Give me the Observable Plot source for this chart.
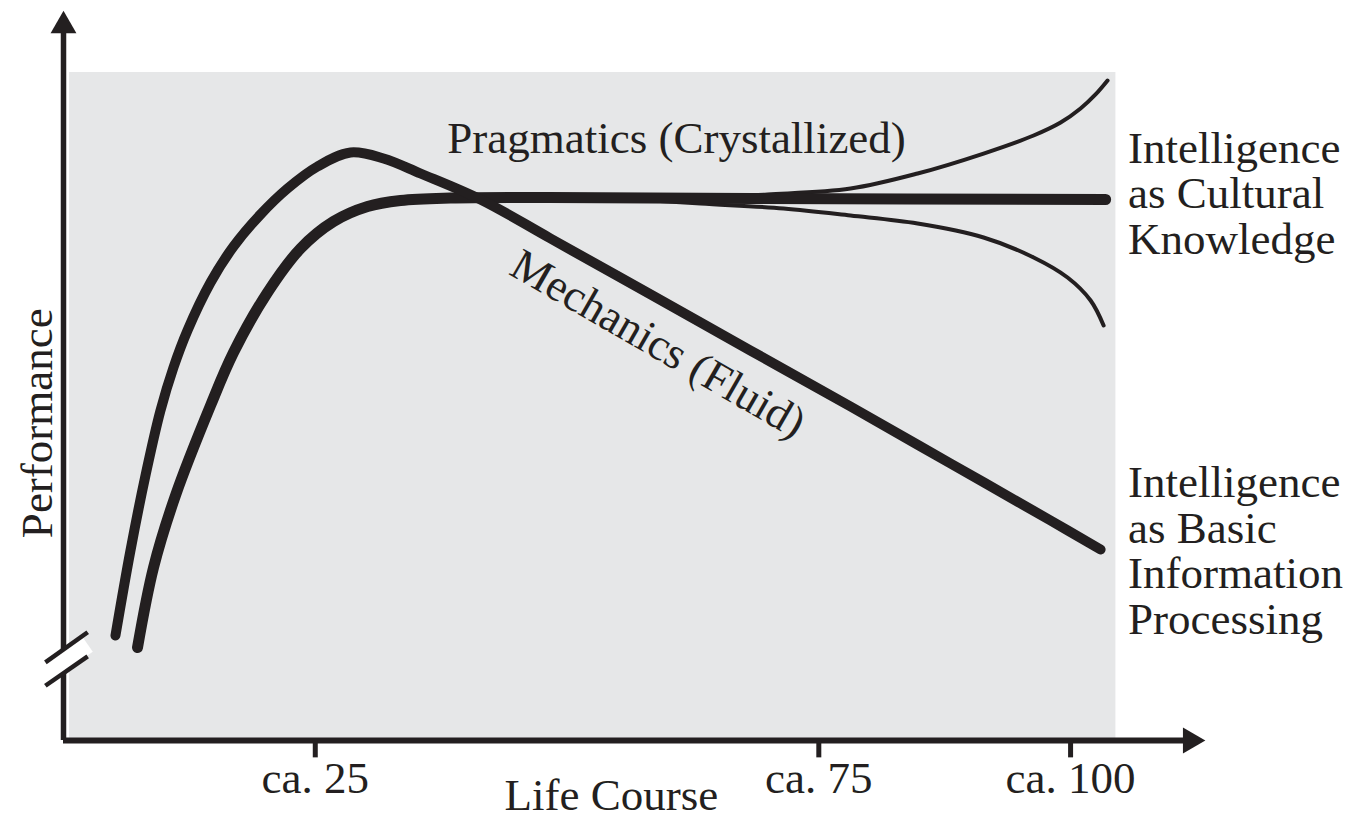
<!DOCTYPE html>
<html>
<head>
<meta charset="utf-8">
<script src="https://cdn.jsdelivr.net/npm/d3@7"></script>
<script src="https://cdn.jsdelivr.net/npm/@observablehq/plot@0.6"></script>
<style>
  html, body { margin: 0; padding: 0; background: #ffffff; overflow: hidden; }
  #chart svg { display: block; }
</style>
</head>
<body>
<div id="chart"></div>
<script>
// ---- Data (age in years along the life course, performance 0–100) ----
const mechanicsAge  = [5.16, 6.65, 8.14, 9.63, 10.92, 12.31, 14.60, 16.88, 19.56, 22.24, 25.22, 28.50, 31.78, 35.45, 41.41, 48.36, 58.29, 68.22, 78.15, 88.08, 98.01, 102.98];
const mechanicsPerf = [15.72, 28.44, 39.67, 49.40, 55.84, 61.38, 68.56, 73.95, 78.74, 82.63, 85.93, 88.02, 87.13, 84.88, 80.99, 75.15, 66.77, 58.38, 50.00, 41.47, 32.93, 28.59];

const pragmaticsAge  = [7.35, 8.94, 11.12, 14.60, 16.88, 20.26, 23.54, 26.81, 30.19, 33.47, 38.43, 48.36, 68.22, 103.48];
const pragmaticsPerf = [13.92, 25.90, 36.68, 50.15, 58.08, 67.07, 73.65, 77.69, 79.94, 80.84, 81.21, 81.29, 81.14, 80.99];

const upperAge  = [63.26, 69.91, 78.15, 84.81, 91.36, 96.33, 99.01, 100.99, 102.48, 103.67];
const upperPerf = [81.29, 81.74, 82.63, 84.88, 87.87, 90.57, 92.51, 94.61, 96.71, 98.80];

const lowerAge  = [55.31, 63.26, 71.50, 78.15, 84.81, 91.36, 96.33, 99.70, 101.99, 103.28];
const lowerPerf = [81.14, 80.39, 79.64, 78.59, 77.40, 75.30, 72.31, 69.31, 65.87, 62.13];

const tickAges   = [25, 75, 100];
const tickLabels = ["ca. 25", "ca. 75", "ca. 100"];

const seriesLabels = [
  {text: "Pragmatics (Crystallized)", x: 38.1, y: 87.9, rotate: 0},
  {text: "Mechanics (Fluid)", x: 44.1, y: 69.9, rotate: 30}
];
const endLabels = [
  {text: "Intelligence\nas Cultural\nKnowledge", x: 105.7, y: 72.9},
  {text: "Intelligence\nas Basic\nInformation\nProcessing", x: 105.7, y: 16.0}
];
const xTitle = {text: "Life Course", x: 54.4, y: -10.4};
const yTitle = {text: "Performance", x: -1.1, y: 47.5};

// background panel and axis decorations (data units)
const panel = [{x1: 0.6, x2: 104.5, y1: 0, y2: 100}];
const axisEnds = {x: 111.9, y: 106.0};
const breakBand  = [{x1: -1.8, y1: 10.0, x2: 2.4, y2: 14.4}];
const breakMarks = [
  {x1: -1.8, y1: 11.7, x2: 2.4, y2: 16.2},
  {x1: -1.8, y1: 8.2,  x2: 2.4, y2: 12.6}
];

const toPts = (xs, ys) => xs.map((x, i) => ({x, y: ys[i]}));
const mechanics  = toPts(mechanicsAge, mechanicsPerf);
const pragmatics = toPts(pragmaticsAge, pragmaticsPerf);
const upper = toPts(upperAge, upperPerf);
const lower = toPts(lowerAge, lowerPerf);
const ticks = tickAges.map((x, i) => ({x, label: tickLabels[i]}));

const ink = "#231f20";
const font = "'Liberation Serif', 'Times New Roman', serif";

const chart = Plot.plot({
  width: 1352,
  height: 820,
  marginLeft: 63,
  marginRight: 151,
  marginTop: 72,
  marginBottom: 80,
  x: {domain: [0, 113], axis: null},
  y: {domain: [0, 100], axis: null},
  style: {background: "#ffffff", fontFamily: font},
  marks: [
    Plot.rect(panel, {x1: "x1", x2: "x2", y1: "y1", y2: "y2", fill: "#e6e7e8"}),
    // axes
    Plot.ruleY([0], {x1: 0, x2: axisEnds.x, stroke: ink, strokeWidth: 6}),
    Plot.ruleX([0], {y1: 0, y2: axisEnds.y, stroke: ink, strokeWidth: 5.5}),
    Plot.dot([{x: 0, y: 107.0}], {x: "x", y: "y", symbol: "triangle", r: 9.6, fill: ink, stroke: "none"}),
    Plot.dot([{x: axisEnds.x, y: 0}], {x: "x", y: "y", symbol: "triangle", r: 9.6, rotate: 90, fill: ink, stroke: "none"}),
    // axis break
    Plot.link(breakBand, {x1: "x1", y1: "y1", x2: "x2", y2: "y2", stroke: "#ffffff", strokeWidth: 18}),
    Plot.link(breakMarks, {x1: "x1", y1: "y1", x2: "x2", y2: "y2", stroke: ink, strokeWidth: 4.5}),
    // ticks
    Plot.ruleX(ticks, {x: "x", y1: 0, y2: -2.6, stroke: ink, strokeWidth: 5}),
    Plot.text(ticks, {x: "x", y: -7.9, text: "label", fontSize: 45, fill: ink, fontFamily: font, lineAnchor: "bottom", textAnchor: "middle"}),
    // curves
    Plot.line(upper, {x: "x", y: "y", curve: "catmull-rom", stroke: ink, strokeWidth: 4, strokeLinecap: "round"}),
    Plot.line(lower, {x: "x", y: "y", curve: "catmull-rom", stroke: ink, strokeWidth: 4, strokeLinecap: "round"}),
    Plot.line(pragmatics, {x: "x", y: "y", curve: "catmull-rom", stroke: ink, strokeWidth: 11, strokeLinecap: "round", strokeLinejoin: "round"}),
    Plot.line(mechanics, {x: "x", y: "y", curve: "catmull-rom", stroke: ink, strokeWidth: 10, strokeLinecap: "round", strokeLinejoin: "round"}),
    // labels
    Plot.text(seriesLabels, {x: "x", y: "y", text: "text", rotate: "rotate", fontSize: 45, fill: ink, fontFamily: font, textAnchor: "start", lineAnchor: "bottom"}),
    Plot.text(endLabels, {x: "x", y: "y", text: "text", fontSize: 45, lineHeight: 1.01, fill: ink, fontFamily: font, textAnchor: "start", lineAnchor: "bottom"}),
    Plot.text([xTitle], {x: "x", y: "y", text: "text", fontSize: 45, fill: ink, fontFamily: font, textAnchor: "middle", lineAnchor: "bottom"}),
    Plot.text([yTitle], {x: "x", y: "y", text: "text", rotate: -90, fontSize: 45, fill: ink, fontFamily: font, textAnchor: "middle", lineAnchor: "bottom"})
  ]
});
document.getElementById("chart").appendChild(chart);
</script>
</body>
</html>
